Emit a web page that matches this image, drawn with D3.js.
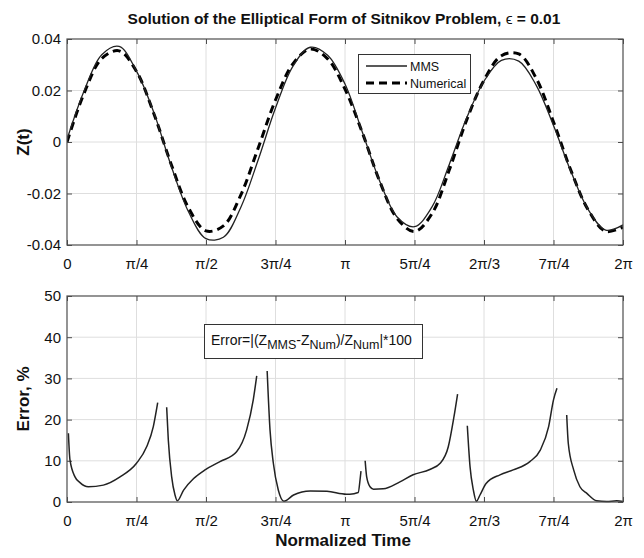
<!DOCTYPE html>
<html>
<head>
<meta charset="utf-8">
<script src="https://cdnjs.cloudflare.com/ajax/libs/d3/7.8.5/d3.min.js"></script>
<style>
  html, body { margin: 0; padding: 0; background: #fff; }
  svg { display: block; font-family: "Liberation Sans", Arial, Helvetica, sans-serif; }
</style>
</head>
<body>
<svg id="chart" width="644" height="558"></svg>
<script>
// ---------- DATA ----------
// Time positions (in units of pi/4) for the upper plot samples
const timeQuarter = [0,0.25,0.5,0.75,1,1.25,1.5,1.75,2,2.25,2.5,2.75,3,3.25,3.5,3.75,4,
                     4.25,4.5,4.75,5,5.25,5.5,5.75,6,6.25,6.5,6.75,7,7.25,7.5,7.75,8];
const zMMS = [0.001,0.0201,0.0339,0.0371,0.0275,0.0114,-0.0094,-0.0272,-0.0375,-0.0370,-0.0254,-0.0070,
              0.0132,0.0294,0.0368,0.0337,0.0225,0.0038,-0.0152,-0.0291,-0.0329,-0.0253,-0.0087,
              0.0093,0.0236,0.0317,0.0314,0.0221,0.0064,-0.0114,-0.0263,-0.0342,-0.0322];
const zNum = [0.0,0.0192,0.0324,0.0354,0.0274,0.0110,-0.0087,-0.0257,-0.0345,-0.0326,-0.0206,-0.0024,
              0.0163,0.0303,0.0361,0.0323,0.0205,0.0036,-0.0153,-0.0297,-0.0348,-0.0279,-0.0109,
              0.0085,0.0240,0.0335,0.0342,0.0248,0.0078,-0.0110,-0.0264,-0.0347,-0.0330];

// Error curve (time in units of pi/4); null marks a break in the line
const errTime = [0.02,0.043,0.115,0.187,0.306,0.523,0.763,1.0,1.146,1.242,1.305, null,
                 1.434,1.458,1.506,1.554,1.587,1.678,1.822,1.986,2.201,2.44,2.585,2.68,2.73, null,
                 2.88,2.921,2.969,3.04,3.12,3.26,3.5,3.74,4.02,4.07,4.19,4.216,4.23, null,
                 4.29,4.312,4.36,4.41,4.55,4.79,4.98,5.22,5.37,5.486,5.568,5.62, null,
                 5.76,5.799,5.847,5.89,5.942,6.03,6.23,6.42,6.66,6.81,6.93,7.0,7.05, null,
                 7.19,7.213,7.29,7.38,7.48,7.62,7.765,7.91,8.0];
const errPct  = [16.7,10.2,6.1,4.7,3.7,4.1,6.1,9.4,13.4,18.3,24.1, null,
                 23.0,15.0,6.1,1.7,0.3,2.9,5.7,7.8,9.8,12.2,17.5,24.8,30.6, null,
                 31.8,17.5,9.4,2.9,0.2,1.7,2.7,2.6,1.9,1.9,2.3,5.3,7.5, null,
                 10.0,6.1,3.7,3.1,3.2,4.9,6.6,7.9,9.4,13.4,20.7,26.2, null,
                 18.5,8.6,2.9,0.2,1.7,4.5,6.6,7.8,9.8,12.6,18.3,24.8,27.6, null,
                 21.1,14.2,7.8,3.7,2.1,0.3,0.1,0.3,0.1];

const xTickQuarter = [0,1,2,3,4,5,6,7,8];
const xTickLabels = ["0","\u03C0/4","\u03C0/2","3\u03C0/4","\u03C0","5\u03C0/4","2\u03C0/3","7\u03C0/4","2\u03C0"];
const zTicks = [-0.04,-0.02,0,0.02,0.04];
const zTickLabels = ["-0.04","-0.02","0","0.02","0.04"];
const errTicks = [0,10,20,30,40,50];
const seriesNames = ["MMS","Numerical"];

const titleText = "Solution of the Elliptical Form of Sitnikov Problem, ";
const xLabel = "Normalized Time";

// ---------- LAYOUT ----------
const svg = d3.select("#chart");
const left = 67, right = 623;
const top1 = 39, bot1 = 245;
const top2 = 296, bot2 = 502;
const PI4 = Math.PI / 4;

const x = d3.scaleLinear().domain([0, 2 * Math.PI]).range([left, right]);
const y1 = d3.scaleLinear().domain([-0.04, 0.04]).range([bot1, top1]);
const y2 = d3.scaleLinear().domain([0, 50]).range([bot2, top2]);

const gridColor = "#dedede";
const axisColor = "#4d4d4d";
const tickFont = 15;

function panel(yScale, yTicks, yLabels, topY, botY) {
  const g = svg.append("g");
  g.selectAll(".vg").data(xTickQuarter.slice(1, -1)).enter().append("line")
    .attr("x1", d => x(d * PI4)).attr("x2", d => x(d * PI4))
    .attr("y1", topY).attr("y2", botY)
    .attr("stroke", gridColor).attr("stroke-width", 1);
  g.selectAll(".hg").data(yTicks.slice(1, -1)).enter().append("line")
    .attr("x1", left).attr("x2", right)
    .attr("y1", d => yScale(d)).attr("y2", d => yScale(d))
    .attr("stroke", gridColor).attr("stroke-width", 1);

  const xAxis = d3.axisBottom(x).tickValues(xTickQuarter.map(d => d * PI4))
    .tickFormat((d, i) => xTickLabels[i]).tickSizeInner(-5).tickSizeOuter(0).tickPadding(13);
  const gx = g.append("g").attr("transform", `translate(0,${botY})`).call(xAxis);
  gx.select(".domain").remove();
  gx.selectAll("line").attr("stroke", axisColor);
  gx.selectAll("text").attr("font-size", tickFont).attr("fill", "#111")
    .attr("font-family", "Liberation Sans, Arial, sans-serif");

  const yAxis = d3.axisLeft(yScale).tickValues(yTicks)
    .tickFormat((d, i) => yLabels ? yLabels[i] : d).tickSizeInner(-5).tickSizeOuter(0).tickPadding(6);
  const gy = g.append("g").attr("transform", `translate(${left},0)`).call(yAxis);
  gy.select(".domain").remove();
  gy.selectAll("line").attr("stroke", axisColor);
  gy.selectAll("text").attr("font-size", tickFont).attr("fill", "#111")
    .attr("font-family", "Liberation Sans, Arial, sans-serif");

  const xTop = d3.axisTop(x).tickValues(xTickQuarter.map(d => d * PI4)).tickFormat("").tickSizeInner(-5).tickSizeOuter(0);
  const gt = g.append("g").attr("transform", `translate(0,${topY})`).call(xTop);
  gt.select(".domain").remove(); gt.selectAll("line").attr("stroke", axisColor);
  const yRight = d3.axisRight(yScale).tickValues(yTicks).tickFormat("").tickSizeInner(-5).tickSizeOuter(0);
  const gr = g.append("g").attr("transform", `translate(${right},0)`).call(yRight);
  gr.select(".domain").remove(); gr.selectAll("line").attr("stroke", axisColor);
  return g;
}

panel(y1, zTicks, zTickLabels, top1, bot1);
panel(y2, errTicks, null, top2, bot2);

// ---------- TOP PLOT LINES ----------
const topData = timeQuarter.map((t, i) => ({ t: t * PI4, mms: zMMS[i], num: zNum[i] }));
const lineMMS = d3.line().x(d => x(d.t)).y(d => y1(d.mms)).curve(d3.curveCatmullRom.alpha(0.5));
const lineNum = d3.line().x(d => x(d.t)).y(d => y1(d.num)).curve(d3.curveCatmullRom.alpha(0.5));

svg.append("defs").append("clipPath").attr("id", "clipTop")
  .append("rect").attr("x", left).attr("y", top1).attr("width", right - left).attr("height", bot1 - top1);

svg.append("path").datum(topData).attr("d", lineNum)
  .attr("fill", "none").attr("stroke", "#000").attr("stroke-width", 3)
  .attr("stroke-dasharray", "8,5").attr("clip-path", "url(#clipTop)");
svg.append("path").datum(topData).attr("d", lineMMS)
  .attr("fill", "none").attr("stroke", "#222").attr("stroke-width", 1.3)
  .attr("clip-path", "url(#clipTop)");

// ---------- BOTTOM PLOT LINE ----------
const errData = errTime.map((t, i) => ({ t: t === null ? null : t * PI4, e: errPct[i] }));
const lineErr = d3.line().defined(d => d.t !== null && d.e !== null)
  .x(d => x(d.t)).y(d => y2(d.e)).curve(d3.curveMonotoneX);
svg.append("path").datum(errData).attr("d", lineErr)
  .attr("fill", "none").attr("stroke", "#222").attr("stroke-width", 1.5);

// ---------- BOXES ----------
[[top1, bot1], [top2, bot2]].forEach(([a, b]) => {
  svg.append("rect").attr("x", left).attr("y", a).attr("width", right - left).attr("height", b - a)
    .attr("fill", "none").attr("stroke", axisColor).attr("stroke-width", 1.2);
});

// ---------- LEGEND ----------
const lg = svg.append("g");
lg.append("rect").attr("x", 358.5).attr("y", 54.5).attr("width", 112).attr("height", 39)
  .attr("fill", "#fff").attr("stroke", "#333").attr("stroke-width", 1);
lg.append("line").attr("x1", 366).attr("x2", 407).attr("y1", 66).attr("y2", 66)
  .attr("stroke", "#222").attr("stroke-width", 1.3);
lg.append("line").attr("x1", 366).attr("x2", 407).attr("y1", 83).attr("y2", 83)
  .attr("stroke", "#000").attr("stroke-width", 3).attr("stroke-dasharray", "8,5");
lg.append("text").attr("x", 410).attr("y", 70.5).attr("font-size", 12.5).attr("fill", "#111").text(seriesNames[0]);
lg.append("text").attr("x", 410).attr("y", 87.5).attr("font-size", 12.5).attr("fill", "#111").text(seriesNames[1]);

// ---------- ERROR FORMULA BOX ----------
const fb = svg.append("g");
fb.append("rect").attr("x", 204.5).attr("y", 324.5).attr("width", 218).attr("height", 34)
  .attr("fill", "#fff").attr("stroke", "#333").attr("stroke-width", 1);
const ft = fb.append("text").attr("x", 211).attr("y", 345).attr("font-size", 14).attr("fill", "#111");
ft.append("tspan").text("Error=|(Z");
ft.append("tspan").attr("dy", 4).attr("font-size", 12.5).text("MMS");
ft.append("tspan").attr("dy", -4).text("-Z");
ft.append("tspan").attr("dy", 4).attr("font-size", 12.5).text("Num");
ft.append("tspan").attr("dy", -4).text(")/Z");
ft.append("tspan").attr("dy", 4).attr("font-size", 12.5).text("Num");
ft.append("tspan").attr("dy", -4).text("|*100");

// ---------- TITLES ----------
const tt = svg.append("text").attr("x", 344).attr("y", 24).attr("text-anchor", "middle")
  .attr("font-size", 15.5).attr("font-weight", "bold").attr("fill", "#111");
tt.append("tspan").text(titleText);
tt.append("tspan").attr("font-weight", "normal").text("\u03F5");
tt.append("tspan").text(" = 0.01");

svg.append("text").attr("transform", `translate(29,${(top1 + bot1) / 2}) rotate(-90)`)
  .attr("text-anchor", "middle").attr("font-size", 17).attr("font-weight", "bold").attr("fill", "#111").text("Z(t)");
svg.append("text").attr("transform", `translate(29,${(top2 + bot2) / 2}) rotate(-90)`)
  .attr("text-anchor", "middle").attr("font-size", 17).attr("font-weight", "bold").attr("fill", "#111").text("Error, %");
svg.append("text").attr("x", 343).attr("y", 546).attr("text-anchor", "middle")
  .attr("font-size", 17).attr("font-weight", "bold").attr("fill", "#111").text(xLabel);
</script>
</body>
</html>
